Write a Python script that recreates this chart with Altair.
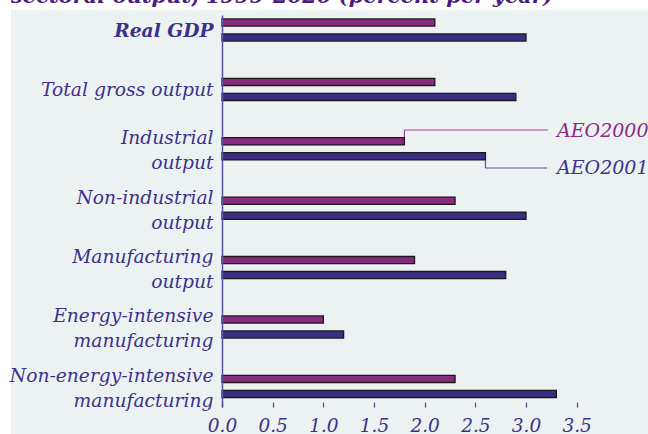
import altair as alt
import pandas as pd

categories = [
    "Real GDP",
    "Total gross output",
    "Industrial|output",
    "Non-industrial|output",
    "Manufacturing|output",
    "Energy-intensive|manufacturing",
    "Non-energy-intensive|manufacturing",
]
series = ["AEO2000", "AEO2001"]
aeo2000 = [2.1, 2.1, 1.8, 2.3, 1.9, 1.0, 2.3]
aeo2001 = [3.0, 2.9, 2.6, 3.0, 2.8, 1.2, 3.3]
tick_values = [0.0, 0.5, 1.0, 1.5, 2.0, 2.5, 3.0, 3.5]
title_text = "sectoral output, 1999-2020 (percent per year)"

rows = []
for c, a, b in zip(categories, aeo2000, aeo2001):
    rows.append({"category": c, "series": "AEO2000", "value": a})
    rows.append({"category": c, "series": "AEO2001", "value": b})
df = pd.DataFrame(rows)

FONT = "DejaVu Serif"
LABEL_COLOR = "#3b318c"
PURPLE = "#8a2a7f"
BLUE = "#3b2c84"

xscale = alt.Scale(domain=[0, 4.204], nice=False, zero=True)
yscale = alt.Scale(paddingInner=0.6, paddingOuter=0.0997, align=0.2635, round=False)

base = alt.Chart(df)

panel = alt.Chart(pd.DataFrame({"a": [0]})).mark_rect(color="#ecf1f1").encode(
    x=alt.value(-211), x2=alt.value(430), y=alt.value(-5), y2=alt.value(425)
)

title = alt.Chart(pd.DataFrame({"t": [title_text]})).mark_text(
    align="left", baseline="alphabetic", font=FONT, fontStyle="italic",
    fontWeight="bold", fontSize=21, color="#4a1c80"
).encode(x=alt.value(-211), y=alt.value(-12), text="t:N")

bars = base.mark_bar(stroke="#1a1a1a", strokeWidth=1.3).encode(
    x=alt.X(
        "value:Q", scale=xscale, title=None,
        axis=alt.Axis(
            values=tick_values, format=".1f", domain=False, grid=False,
            tickSize=5, tickColor="#5a50a0", tickWidth=1.3, offset=-5,
            labelFont=FONT, labelFontStyle="italic", labelFontSize=18.5,
            labelColor=LABEL_COLOR, labelPadding=9, labelOverlap=False,
            labelFlush=False, labelBound=False, zindex=1,
        ),
    ),
    y=alt.Y(
        "category:N", sort=categories, scale=yscale, title=None,
        axis=alt.Axis(
            ticks=False, domain=True, domainColor="#5a50a0", domainWidth=1.5,
            labelFont=FONT, labelFontStyle="italic", labelFontSize=18.7,
            labelColor=LABEL_COLOR, labelPadding=9, labelLimit=0,
            labelLineHeight=25, labelExpr="split(datum.label, '|')",
            labelOffset=alt.ExprRef(expr="indexof(datum.value, '|') >= 0 ? -10.5 : 0.5"),
            labelFontWeight=alt.ExprRef(expr="datum.value == 'Real GDP' ? 'bold' : 'normal'"),
            zindex=1,
        ),
    ),
    yOffset=alt.YOffset("series:N", sort=series,
                        scale=alt.Scale(paddingInner=0.52, paddingOuter=0.052)),
    color=alt.Color("series:N", scale=alt.Scale(domain=series, range=[PURPLE, BLUE]),
                    legend=None),
)

ind = base.transform_filter(alt.datum.category == "Industrial|output")
lead00_v = ind.transform_filter(alt.datum.series == "AEO2000").mark_rule(
    color="#a0409a", strokeWidth=1.2
).encode(x=alt.X("value:Q", scale=xscale), y=alt.value(115), y2=alt.value(122))
lead00_h = ind.transform_filter(alt.datum.series == "AEO2000").mark_rule(
    color="#a0409a", strokeWidth=1.2
).encode(x=alt.X("value:Q", scale=xscale), x2=alt.value(326), y=alt.value(115))
lead01_v = ind.transform_filter(alt.datum.series == "AEO2001").mark_rule(
    color="#5a50a8", strokeWidth=1.2
).encode(x=alt.X("value:Q", scale=xscale), y=alt.value(145), y2=alt.value(153))
lead01_h = ind.transform_filter(alt.datum.series == "AEO2001").mark_rule(
    color="#5a50a8", strokeWidth=1.2
).encode(x=alt.X("value:Q", scale=xscale), x2=alt.value(325), y=alt.value(153))

lab = pd.DataFrame({"t": series})
lab00 = alt.Chart(lab).transform_filter(alt.datum.t == "AEO2000").mark_text(
    align="left", baseline="middle", font=FONT, fontStyle="italic", fontSize=19,
    color="#8e2b8a"
).encode(x=alt.value(335), y=alt.value(116), text="t:N")
lab01 = alt.Chart(lab).transform_filter(alt.datum.t == "AEO2001").mark_text(
    align="left", baseline="middle", font=FONT, fontStyle="italic", fontSize=19,
    color="#3c3394"
).encode(x=alt.value(335), y=alt.value(153), text="t:N")

chart = alt.layer(
    panel, title, bars, lead00_v, lead00_h, lead01_v, lead01_h, lab00, lab01
).properties(
    width=426, height=392,
    autosize=alt.AutoSizeParams(type="none"),
    padding={"left": 222, "top": 15, "right": 0, "bottom": 27},
    background="white",
).configure_view(stroke=None)

chart.save("out.html", embed_options={"renderer": "svg", "actions": False})
